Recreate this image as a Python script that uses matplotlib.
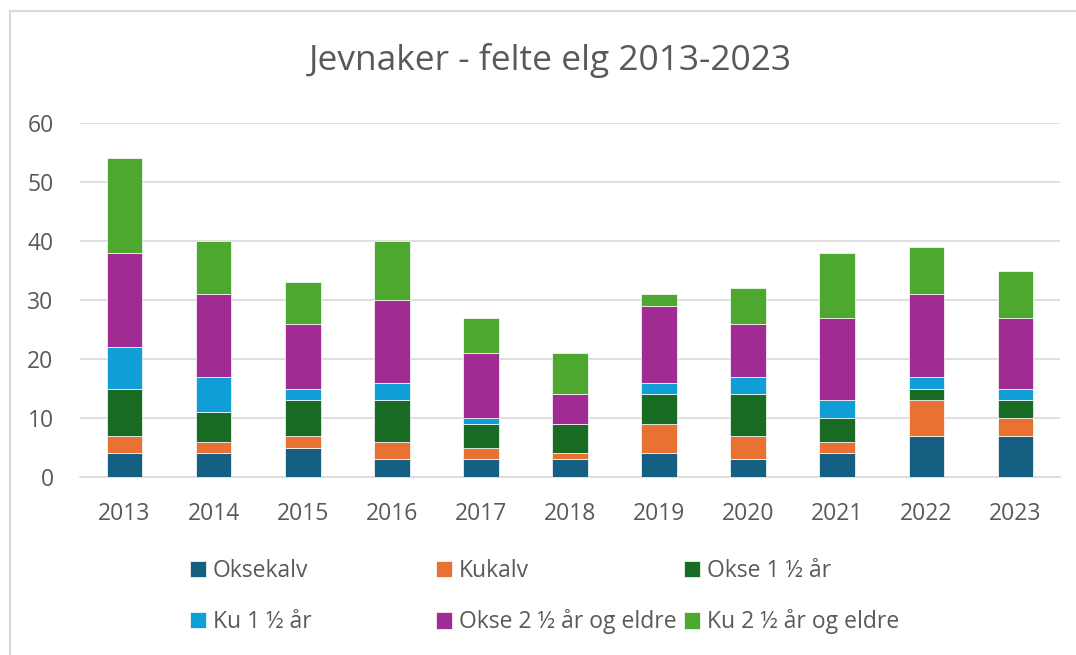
import numpy as np
import matplotlib
matplotlib.use("Agg")
import matplotlib.pyplot as plt
from matplotlib.lines import Line2D

# ── data ─────────────────────────────────────────────────────────────
years = ["2013", "2014", "2015", "2016", "2017", "2018",
         "2019", "2020", "2021", "2022", "2023"]
oksekalv   = [4, 4, 5, 3, 3, 3, 4, 3, 4, 7, 7]
kukalv     = [3, 2, 2, 3, 2, 1, 5, 4, 2, 6, 3]
okse_1_5   = [8, 5, 6, 7, 4, 5, 5, 7, 4, 2, 3]
ku_1_5     = [7, 6, 2, 3, 1, 0, 2, 3, 3, 2, 2]
okse_2_5   = [16, 14, 11, 14, 11, 5, 13, 9, 14, 14, 12]
ku_2_5     = [16, 9, 7, 10, 6, 7, 2, 6, 11, 8, 8]

series = [oksekalv, kukalv, okse_1_5, ku_1_5, okse_2_5, ku_2_5]
names  = ["Oksekalv", "Kukalv", "Okse 1 ½ år",
          "Ku 1 ½ år", "Okse 2 ½ år og eldre", "Ku 2 ½ år og eldre"]
colors = ["#156082", "#E97132", "#196B24", "#0F9ED5", "#A02B93", "#4EA72E"]

# ── style ────────────────────────────────────────────────────────────
plt.rcParams["font.family"] = ["Open Sans", "DejaVu Sans"]
txt_col  = "#595959"
grid_col = "#D9D9D9"

W, H = 1076, 655
fig = plt.figure(figsize=(W / 100, H / 100), dpi=100)
ax = fig.add_axes([80 / W, 1 - 477 / H, (1060 - 80) / W, (477 - 123) / H])

x = np.arange(len(years))
bottom = np.zeros(len(years))
bars = []
for vals, c in zip(series, colors):
    b = ax.bar(x, vals, width=0.4, bottom=bottom, color=c,
               edgecolor="white", linewidth=0.5, zorder=3)
    bars.append(b)
    bottom += np.array(vals)

ax.set_xlim(-0.5, len(years) - 0.5)
ax.set_ylim(0, 60)
ax.set_yticks(range(0, 61, 10))
ax.set_xticks(x)
ax.set_xticklabels(years)
ax.yaxis.grid(True, color=grid_col, lw=1.2, zorder=0)
ax.tick_params(axis="both", length=0, labelsize=16.5, colors=txt_col)
ax.tick_params(axis="x", pad=18)
ax.tick_params(axis="y", pad=19)
for s in ["top", "right", "left"]:
    ax.spines[s].set_visible(False)
ax.spines["bottom"].set_color(grid_col)
ax.spines["bottom"].set_linewidth(1.2)

fig.text(550 / W, 1 - 60 / H, "Jevnaker - felte elg 2013-2023",
         ha="center", va="center", fontsize=25.5, color=txt_col)

# ── legend: 3 columns x 2 rows, placed like the Excel layout ─────────
col_x = [190, 436, 684]
row_y = [571, 622]
for i, (b, n) in enumerate(zip(bars, names)):
    cx = col_x[i % 3]
    cy = row_y[i // 3]
    fig.legend(handles=[b], labels=[n], loc="center left",
               bbox_to_anchor=(cx / W, 1 - cy / H), frameon=False,
               fontsize=16.5, labelcolor=txt_col, borderpad=0,
               borderaxespad=0, handlelength=0.7, handleheight=0.7,
               handletextpad=0.3)

# chart frame (top and left edges visible)
fig.add_artist(Line2D([9.5 / W, 1], [1 - 10.5 / H] * 2, color=grid_col, lw=1.6,
                      transform=fig.transFigure))
fig.add_artist(Line2D([9.5 / W] * 2, [0, 1 - 10.5 / H], color=grid_col, lw=1.6,
                      transform=fig.transFigure))

fig.savefig("out.png", dpi=100)
